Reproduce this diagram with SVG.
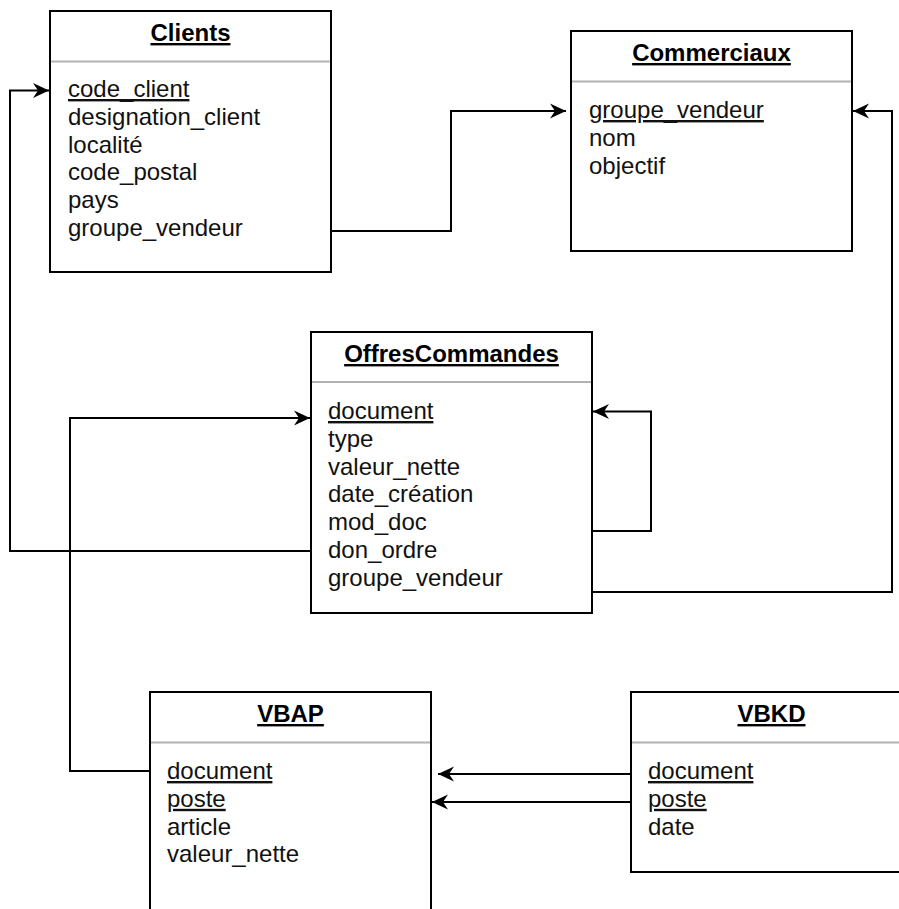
<svg xmlns="http://www.w3.org/2000/svg" width="899" height="909" viewBox="0 0 899 909">
<style>
.box{fill:#fff;stroke:#000;stroke-width:2}
.sep{stroke:#b3b3b3;stroke-width:2}
.title{font-family:"Liberation Sans",Arial,sans-serif;font-size:24px;font-weight:bold;text-anchor:middle;text-decoration:underline;fill:#000}
.row{font-family:"Liberation Sans",Arial,sans-serif;font-size:24px;fill:#111}
.pk{text-decoration:underline}
.conn{fill:none;stroke:#000;stroke-width:2}
</style>
<defs>
<marker id="arr" markerUnits="userSpaceOnUse" markerWidth="18" markerHeight="18" refX="16" refY="9" orient="auto">
<path d="M0,1.5 L16,9 L0,16.5 L5,9 Z" fill="#000"/>
</marker>
</defs>
<rect width="899" height="909" fill="#fff"/>
<g id="connectors">
<path class="conn" d="M331,231 H451 V111 H566" marker-end="url(#arr)"/>
<path class="conn" d="M592,592 H892 V111 H853" marker-end="url(#arr)"/>
<path class="conn" d="M311,551 H10 V90.5 H49" marker-end="url(#arr)"/>
<path class="conn" d="M592,531 H651 V411.5 H593" marker-end="url(#arr)"/>
<path class="conn" d="M150,771 H70 V418 H310" marker-end="url(#arr)"/>
<path class="conn" d="M631,774 H438" marker-end="url(#arr)"/>
<path class="conn" d="M631,802 H432" marker-end="url(#arr)"/>
</g>
<g id="clients">
<rect class="box" x="50" y="11" width="281" height="261"/>
<line class="sep" x1="51" y1="61.5" x2="330" y2="61.5"/>
<text class="title" x="190.5" y="41">Clients</text>
<text class="row pk" x="68" y="97">code_client</text>
<text class="row" x="68" y="124.8">designation_client</text>
<text class="row" x="68" y="152.6">localité</text>
<text class="row" x="68" y="180.4">code_postal</text>
<text class="row" x="68" y="208.2">pays</text>
<text class="row" x="68" y="236">groupe_vendeur</text>
</g>
<g id="commerciaux">
<rect class="box" x="571" y="31" width="281" height="220"/>
<line class="sep" x1="572" y1="81.5" x2="851" y2="81.5"/>
<text class="title" x="711.5" y="61">Commerciaux</text>
<text class="row pk" x="589" y="118">groupe_vendeur</text>
<text class="row" x="589" y="145.8">nom</text>
<text class="row" x="589" y="173.6">objectif</text>
</g>
<g id="offrescommandes">
<rect class="box" x="311" y="332" width="281" height="281"/>
<line class="sep" x1="312" y1="382" x2="591" y2="382"/>
<text class="title" x="451.5" y="362">OffresCommandes</text>
<text class="row pk" x="328" y="419">document</text>
<text class="row" x="328" y="446.8">type</text>
<text class="row" x="328" y="474.6">valeur_nette</text>
<text class="row" x="328" y="502.4">date_création</text>
<text class="row" x="328" y="530.2">mod_doc</text>
<text class="row" x="328" y="558">don_ordre</text>
<text class="row" x="328" y="585.8">groupe_vendeur</text>
</g>
<g id="vbap">
<rect class="box" x="150" y="692" width="281" height="260"/>
<line class="sep" x1="151" y1="742.5" x2="430" y2="742.5"/>
<text class="title" x="290.5" y="722">VBAP</text>
<text class="row pk" x="167" y="779">document</text>
<text class="row pk" x="167" y="806.8">poste</text>
<text class="row" x="167" y="834.6">article</text>
<text class="row" x="167" y="862.4">valeur_nette</text>
</g>
<g id="vbkd">
<rect class="box" x="631" y="692" width="281" height="180"/>
<line class="sep" x1="632" y1="742.5" x2="911" y2="742.5"/>
<text class="title" x="771.5" y="722">VBKD</text>
<text class="row pk" x="648" y="779">document</text>
<text class="row pk" x="648" y="806.8">poste</text>
<text class="row" x="648" y="834.6">date</text>
</g>
</svg>
